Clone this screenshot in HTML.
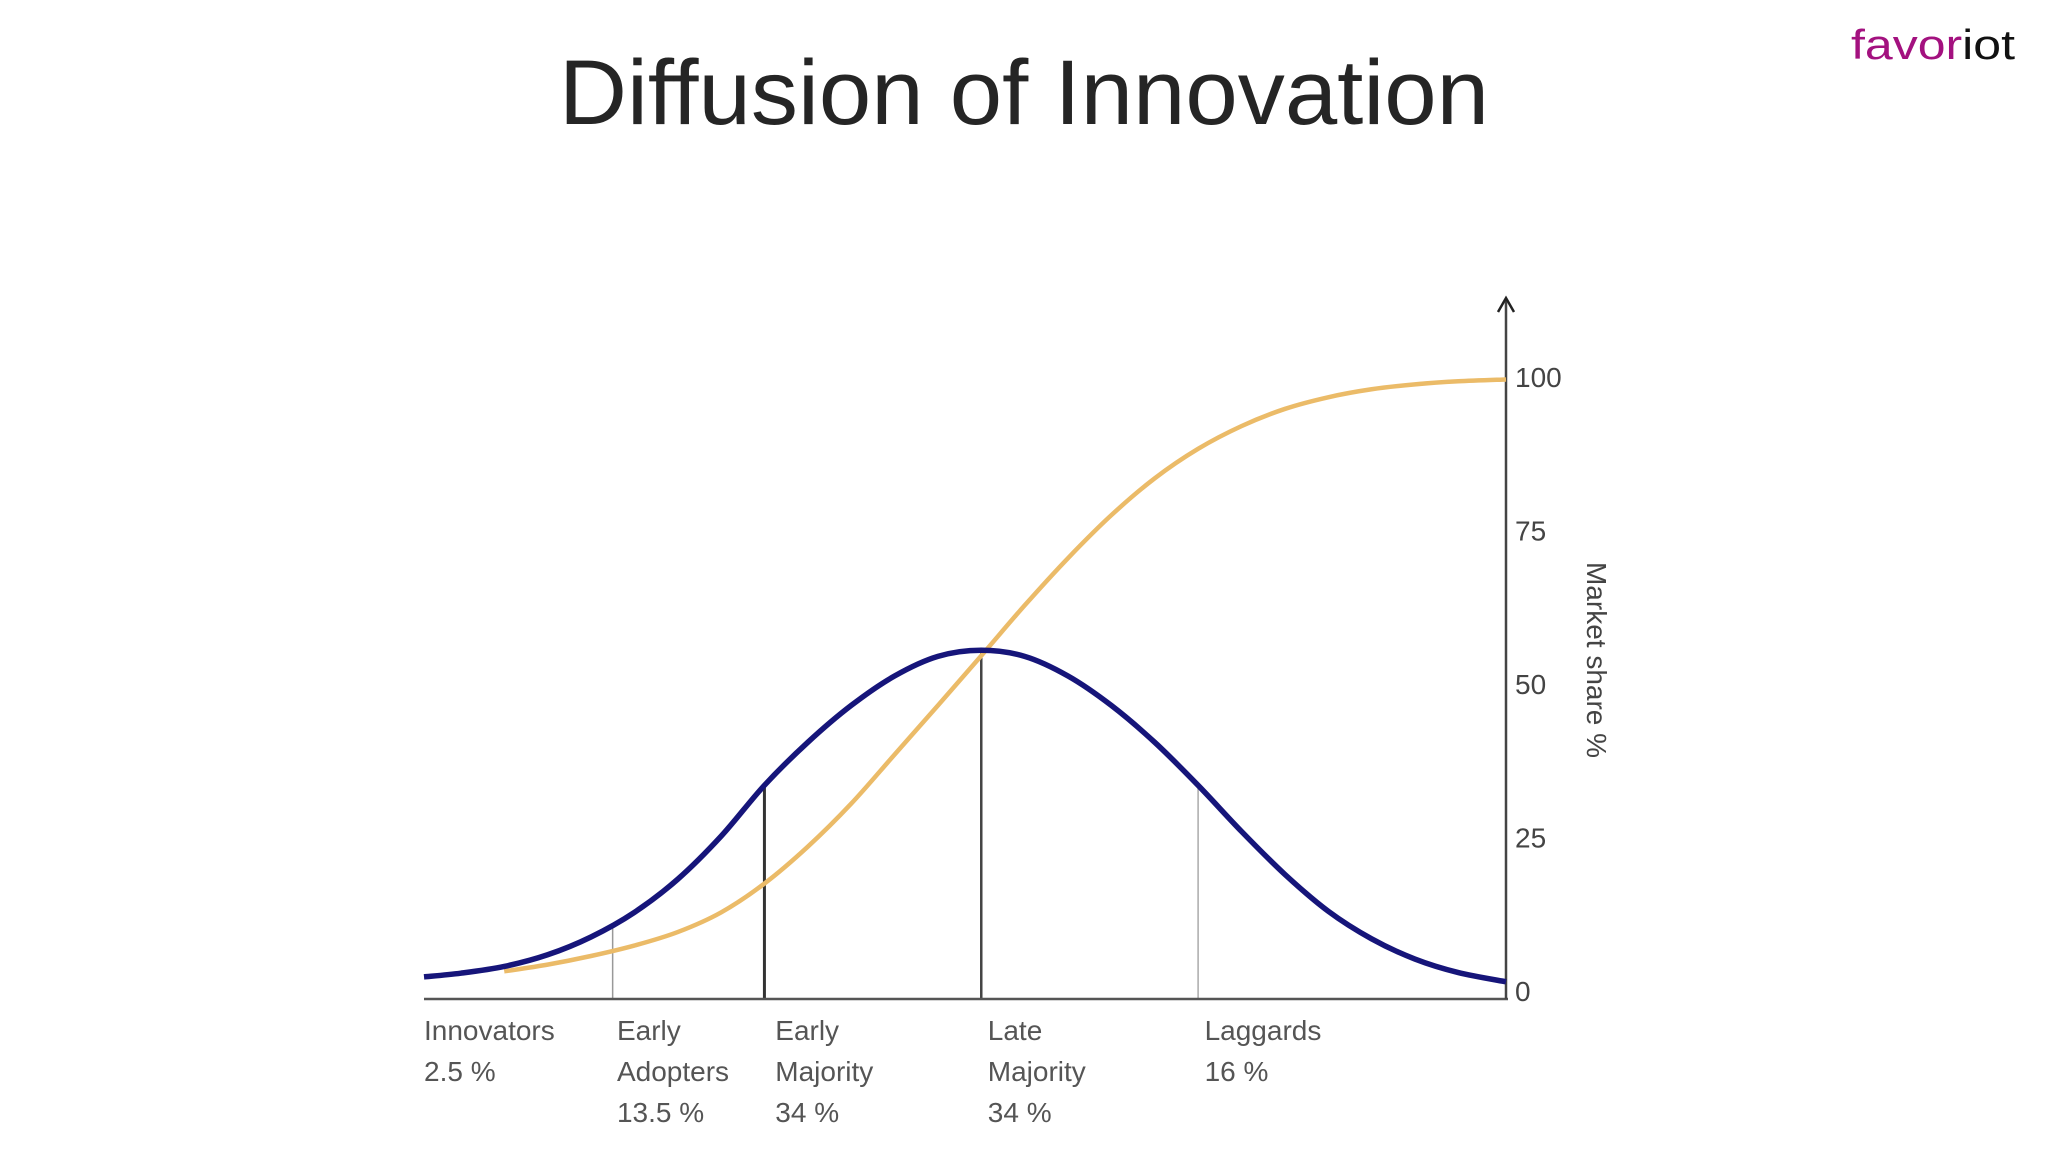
<!DOCTYPE html>
<html><head><meta charset="utf-8"><style>
html,body{margin:0;padding:0;background:#fff;}
svg{display:block;}
text{font-family:"Liberation Sans",sans-serif;}
</style></head><body>
<svg id="chart" width="2048" height="1152" viewBox="0 0 2048 1152" xmlns="http://www.w3.org/2000/svg">
<rect width="2048" height="1152" fill="#fff"/>
<text x="1024" y="124" text-anchor="middle" font-size="92" fill="#252525" textLength="930" lengthAdjust="spacingAndGlyphs">Diffusion of Innovation</text>
<text x="1851" y="59" font-size="42" textLength="164" lengthAdjust="spacingAndGlyphs"><tspan fill="#a3117f">favor</tspan><tspan fill="#111">iot</tspan></text>
<g id="plot"></g>
</svg>
<script>
const bellX=[-2.57,-2.4,-2.2,-2.0,-1.8,-1.6,-1.4,-1.2,-1.0,-0.8,-0.6,-0.4,-0.2,0,0.2,0.4,0.6,0.8,1.0,1.2,1.4,1.6,1.8,2.0,2.2,2.42];
const bellY=[2.3,2.9,4.0,5.9,8.8,12.8,18.2,25.2,33.5,40.5,46.5,51.3,54.5,55.5,54.5,51.3,46.5,40.5,33.5,26,19,13,8.5,5.2,3,1.5];
const sX=[-2.2,-2.0,-1.8,-1.6,-1.4,-1.2,-1.0,-0.8,-0.6,-0.4,-0.2,0,0.2,0.4,0.6,0.8,1.0,1.2,1.4,1.6,1.8,2.0,2.2,2.42];
const sY=[3.2,4.3,5.7,7.4,9.6,12.8,17.5,23.5,30.5,38.5,46.5,54.6,62.8,70.5,77.5,83.5,88.3,92,94.8,96.7,98,98.8,99.3,99.6];
const yTicks=[0,25,50,75,100];
const sepX=[-1.7,-1.0,0,1.0];
const sepVals=[10.7,33.5,55.5,33.5];
const categories=[["Innovators","2.5 %"],["Early","Adopters","13.5 %"],["Early","Majority","34 %"],["Late","Majority","34 %"],["Laggards","16 %"]];
const catX=[-2.57,-1.68,-0.95,0.03,1.03];

const X0=424,X1=1506,D0=-2.57,D1=2.42,Y0=991,Y100=377;
const xs=v=>X0+(v-D0)/(D1-D0)*(X1-X0);
const ys=v=>Y0+(Y100-Y0)*v/100;
const NS='http://www.w3.org/2000/svg';
const g=document.getElementById('plot');
function mk(t,a){const e=document.createElementNS(NS,t);for(const k in a)e.setAttribute(k,a[k]);g.appendChild(e);return e;}
function smooth(px,py){
  const p=px.map((x,i)=>[xs(x),ys(py[i])]);
  let d='M'+p[0][0]+','+p[0][1];
  for(let i=0;i<p.length-1;i++){
    const a=p[i-1]||p[i],b=p[i],c=p[i+1],e=p[i+2]||c;
    const c1=[b[0]+(c[0]-a[0])/6,b[1]+(c[1]-a[1])/6],c2=[c[0]-(e[0]-b[0])/6,c[1]-(e[1]-b[1])/6];
    d+=' C'+c1[0]+','+c1[1]+' '+c2[0]+','+c2[1]+' '+c[0]+','+c[1];
  }
  return d;
}
const sepCol=['#999','#333','#444','#aaa'],sepW=[1.5,3,2.5,1.5];
sepX.forEach((v,i)=>{
  const l=mk('line',{x1:xs(v),x2:xs(v),y1:999,y2:ys(sepVals[i]),stroke:sepCol[i],'stroke-width':sepW[i]});
  
  
});
const xa=mk('line',{x1:X0,x2:X1+2,y1:999,y2:999,stroke:'#555','stroke-width':2.5});


const ya=mk('line',{x1:X1,x2:X1,y1:999,y2:300,stroke:'#444','stroke-width':2.5});


const ar=mk('path',{d:`M${X1-8},${312} L${X1},${298} L${X1+8},${312}`,fill:'none',stroke:'#222','stroke-width':2.5});


const sc=mk('path',{d:smooth(sX,sY),fill:'none',stroke:'#ebbb68','stroke-width':4.5});


const bc=mk('path',{d:smooth(bellX,bellY),fill:'none',stroke:'#16157a','stroke-width':5.5});


yTicks.forEach(v=>{
  const t=mk('text',{x:1515,y:ys(v)+10,'font-size':28,fill:'#444'});
  t.textContent=v;
  
  
});
const yt=mk('text',{x:0,y:0,'font-size':28,fill:'#444','text-anchor':'middle',transform:'translate(1587,660) rotate(90)'});
yt.textContent='Market share %';


categories.forEach((lines,i)=>{
  lines.forEach((s,j)=>{
    const t=mk('text',{x:xs(catX[i]),y:1040+j*41,'font-size':28,fill:'#555'});
    t.textContent=s;
    
    
  });
});
</script>
</body></html>
